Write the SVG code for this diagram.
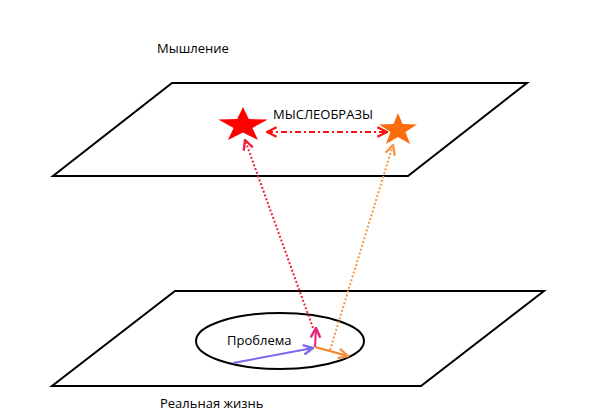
<svg xmlns="http://www.w3.org/2000/svg" width="591" height="420" viewBox="0 0 591 420">
<style>
.plane{fill:none;stroke:#000;stroke-width:2}
.lbl{font-family:"Open Sans","Liberation Sans",sans-serif;font-size:13px;fill:#000}
.dot{fill:none;stroke-width:2;stroke-dasharray:2 2}
.sol{fill:none;stroke-width:2}
</style>
<defs>
<marker id="mRed" viewBox="0 0 10 10" refX="9" refY="5" markerWidth="6" markerHeight="6" orient="auto-start-reverse" markerUnits="strokeWidth"><path d="M1,1 L9,5 L1,9" fill="none" stroke="#ff1010" stroke-width="2"/></marker>
<marker id="mRed2" viewBox="0 0 10 10" refX="9" refY="5" markerWidth="6" markerHeight="6" orient="auto" markerUnits="strokeWidth"><path d="M1,1 L9,5 L1,9" fill="none" stroke="#f0203c" stroke-width="2"/></marker>
<marker id="mOr" viewBox="0 0 10 10" refX="9" refY="5" markerWidth="6" markerHeight="6" orient="auto" markerUnits="strokeWidth"><path d="M1,1 L9,5 L1,9" fill="none" stroke="#f79646" stroke-width="2"/></marker>
<marker id="mPink" viewBox="0 0 10 10" refX="9" refY="5" markerWidth="6" markerHeight="6" orient="auto" markerUnits="strokeWidth"><path d="M1,1 L9,5 L1,9" fill="none" stroke="#e8207a" stroke-width="2"/></marker>
<marker id="mBlue" viewBox="0 0 10 10" refX="9" refY="5" markerWidth="6" markerHeight="6" orient="auto" markerUnits="strokeWidth"><path d="M1,1 L9,5 L1,9" fill="none" stroke="#7b68ee" stroke-width="2"/></marker>
</defs>
<rect width="591" height="420" fill="#fff"/>
<g id="thinking-plane">
<polygon class="plane" points="172,83 527,83 408,176 53,176"/>
<text class="lbl" x="157" y="53">Мышление</text>
</g>
<g id="reality-plane">
<polygon class="plane" points="175,291 544,291 421,386 52,386"/>
<text class="lbl" x="160" y="408">Реальная жизнь</text>
</g>
<g id="problem">
<ellipse cx="280" cy="341" rx="84" ry="28" fill="none" stroke="#000" stroke-width="2"/>
<text class="lbl" x="227" y="345">Проблема</text>
</g>
<g id="red-star">
<polygon fill="#ff0000" points="243,107 248.8,119 267.7,119.5 252.4,128 258,140 243,132.5 228,140 233.6,128 218.3,119.5 237.2,119"/>
</g>
<g id="orange-star">
<polygon fill="#fb6c0c" points="398,113 402.5,124 417,124.5 405.5,132 410,144 398,137 386,144 390.5,132 379,124.5 393.5,124"/>
</g>
<text class="lbl" x="273" y="119">МЫСЛЕОБРАЗЫ</text>
<g id="connectors">
<line x1="267" y1="132" x2="387" y2="132" fill="none" stroke="#ff1010" stroke-width="2" stroke-dasharray="6 3 2 3" marker-start="url(#mRed)" marker-end="url(#mRed)"/>
<line class="dot" x1="313" y1="328" x2="245" y2="140" stroke="#f0203c" marker-end="url(#mRed2)"/>
<line class="dot" x1="330" y1="350" x2="393" y2="145" stroke="#f79646" marker-end="url(#mOr)"/>
<line class="sol" x1="233" y1="363" x2="313" y2="348" stroke="#7b68ee" marker-end="url(#mBlue)"/>
<line class="sol" x1="315" y1="347" x2="316" y2="328" stroke="#e8207a" marker-end="url(#mPink)"/>
<line class="sol" x1="315" y1="347" x2="348" y2="356" stroke="#f5821f" marker-end="url(#mOr)"/>
</g>
</svg>
